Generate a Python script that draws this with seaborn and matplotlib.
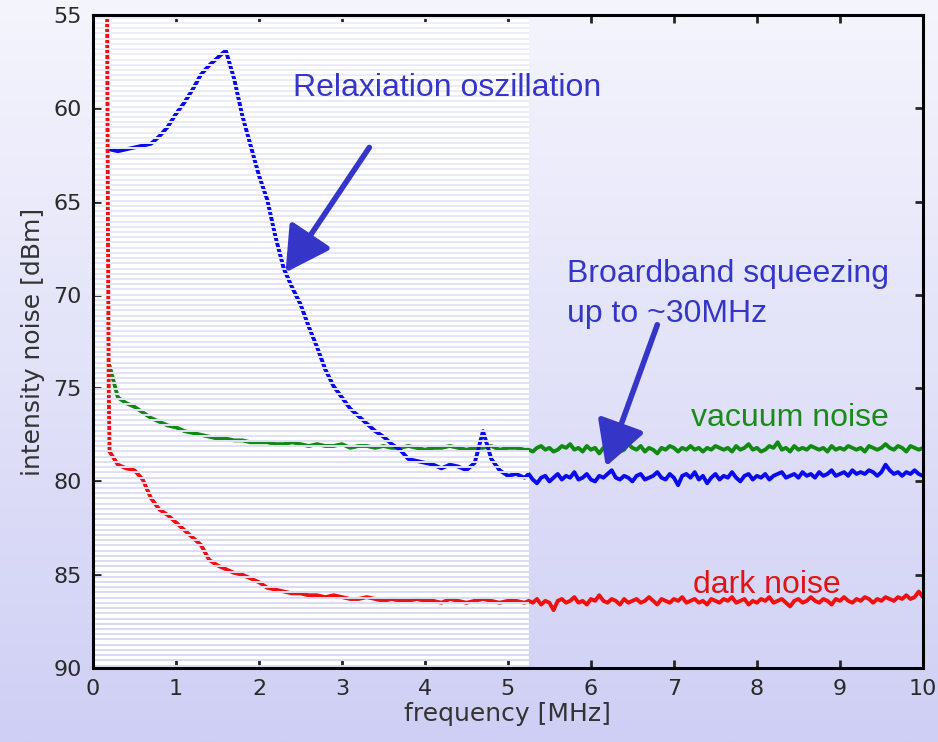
import numpy as np
import pandas as pd
import matplotlib
matplotlib.use("Agg")
import matplotlib.pyplot as plt
import seaborn as sns
from matplotlib.colors import LinearSegmentedColormap

# frequency grids (MHz)
freq_left = np.round(np.arange(0.2, 5.21, 0.1), 2)
freq_right = np.round(np.arange(5.25, 10.001, 0.05), 2)

# relaxation oscillation / squeezed light (blue)
blue_left = [62.2, 62.3, 62.2, 62.1, 62.0, 61.9, 61.5, 61.0, 60.3, 59.7,
             59.0, 58.2, 57.7, 57.3, 56.9, 58.4, 60.4, 62.0, 63.6, 64.9,
             66.9, 68.6, 69.6, 70.5, 71.7, 72.8, 74.0, 74.9, 75.5, 76.1,
             76.5, 76.9, 77.3, 77.6, 78.0, 78.3, 78.8, 78.9, 79.0, 79.1,
             79.3, 79.1, 79.2, 79.4, 79.0, 77.3, 78.8, 79.4, 79.7, 79.6,
             79.8]
blue_right = [79.6, 79.9, 80.1, 79.8, 79.7, 80.0, 79.8, 79.6, 79.9, 79.7,
              79.8, 79.5, 79.9, 79.8, 79.6, 79.9, 80.0, 79.7, 79.8, 79.6,
              79.4, 79.8, 79.9, 79.7, 79.8, 80.0, 79.7, 79.6, 79.9, 79.8,
              79.7, 79.5, 79.8, 79.9, 79.6, 79.8, 80.2, 79.7, 79.6, 79.8,
              79.5, 79.9, 79.7, 80.1, 79.8, 79.6, 79.9, 79.7, 79.8, 79.5,
              79.8, 80.0, 79.7, 79.6, 79.9, 79.7, 79.8, 79.6, 79.9, 79.7,
              79.6, 79.5, 79.8, 79.7, 79.6, 79.8, 79.5, 79.7, 79.6, 79.8,
              79.5, 79.7, 79.6, 79.4, 79.7, 79.6, 79.5, 79.7, 79.4, 79.6,
              79.5, 79.6, 79.4, 79.5, 79.7, 79.5, 79.1, 79.4, 79.6, 79.5,
              79.7, 79.5, 79.6, 79.4, 79.6, 79.7]

# vacuum noise (green)
green_left = [73.8, 75.5, 75.8, 76.0, 76.3, 76.6, 76.8, 77.0, 77.1, 77.3,
              77.4, 77.5, 77.6, 77.7, 77.7, 77.8, 77.8, 77.9, 77.9, 77.9,
              78.0, 78.0, 77.9, 78.0, 78.1, 78.0, 78.1, 78.1, 78.0, 78.2,
              78.1, 78.1, 78.2, 78.1, 78.2, 78.2, 78.1, 78.2, 78.3, 78.2,
              78.2, 78.1, 78.2, 78.3, 78.2, 78.2, 78.1, 78.3, 78.2, 78.2,
              78.3]
green_right = [78.3, 78.4, 78.2, 78.1, 78.3, 78.2, 78.4, 78.3, 78.1, 78.2,
               78.0, 78.3, 78.2, 78.4, 78.1, 78.3, 78.2, 78.5, 78.2, 78.3,
               78.1, 78.2, 78.4, 78.3, 78.0, 78.2, 78.3, 78.1, 78.4, 78.2,
               78.3, 78.5, 78.2, 78.3, 78.1, 78.2, 78.4, 78.2, 78.3, 78.1,
               78.3, 78.2, 78.4, 78.2, 78.3, 78.1, 78.2, 78.3, 78.2, 78.4,
               78.1, 78.3, 78.2, 78.0, 78.3, 78.2, 78.4, 78.3, 78.1, 78.2,
               77.9, 78.3, 78.2, 78.4, 78.1, 78.3, 78.2, 78.3, 78.1, 78.2,
               78.3, 78.2, 78.4, 78.1, 78.3, 78.2, 78.3, 78.1, 78.2, 78.3,
               78.2, 78.4, 78.1, 78.2, 78.3, 78.2, 78.0, 78.2, 78.3, 78.1,
               78.2, 78.4, 78.1, 78.2, 78.3, 78.2]

# dark noise (red), starts with a near vertical drop
red_start_freq = [0.17, 0.18, 0.19]
red_start = [54.0, 66.0, 75.0]
red_left = [78.4, 79.1, 79.3, 79.4, 79.9, 80.9, 81.5, 81.8, 82.2, 82.6,
            83.0, 83.4, 84.2, 84.5, 84.7, 84.9, 85.0, 85.2, 85.4, 85.7,
            85.8, 85.9, 86.0, 86.0, 86.1, 86.1, 86.2, 86.1, 86.2, 86.3,
            86.3, 86.2, 86.3, 86.4, 86.3, 86.4, 86.4, 86.3, 86.4, 86.4,
            86.5, 86.3, 86.4, 86.5, 86.4, 86.3, 86.4, 86.5, 86.4, 86.4,
            86.5]
red_right = [86.4, 86.5, 86.3, 86.6, 86.4, 86.5, 86.9, 86.4, 86.3, 86.5,
             86.4, 86.2, 86.5, 86.4, 86.6, 86.3, 86.4, 86.1, 86.4, 86.5,
             86.3, 86.4, 86.6, 86.3, 86.5, 86.4, 86.3, 86.5, 86.4, 86.2,
             86.4, 86.6, 86.3, 86.4, 86.5, 86.3, 86.4, 86.2, 86.5, 86.4,
             86.3, 86.5, 86.4, 86.6, 86.3, 86.4, 86.5, 86.3, 86.4, 86.2,
             86.5, 86.4, 86.3, 86.6, 86.4, 86.5, 86.3, 86.4, 86.2, 86.5,
             86.4, 86.3, 86.5, 86.7, 86.4, 86.3, 86.5, 86.4, 86.2, 86.4,
             86.5, 86.3, 86.4, 86.6, 86.3, 86.4, 86.2, 86.4, 86.5, 86.3,
             86.4, 86.2, 86.3, 86.5, 86.3, 86.4, 86.2, 86.3, 86.4, 86.2,
             86.3, 86.1, 86.3, 86.2, 85.9, 86.2]

df_blue = pd.DataFrame({"freq": np.concatenate([freq_left, freq_right]),
                        "noise": blue_left + blue_right})
df_green = pd.DataFrame({"freq": np.concatenate([freq_left, freq_right]),
                         "noise": green_left + green_right})
df_red = pd.DataFrame({"freq": np.concatenate([red_start_freq, freq_left, freq_right]),
                       "noise": red_start + red_left + red_right})

sns.set_style("ticks")
plt.rcParams["font.family"] = ["DejaVu Sans"]

fig = plt.figure(figsize=(9.38, 7.42), dpi=100)

# lavender gradient background
bg = fig.add_axes([0, 0, 1, 1], zorder=-10)
grad = np.linspace(0, 1, 256).reshape(-1, 1)
cmap_bg = LinearSegmentedColormap.from_list("bg", ["#f5f5fd", "#cfcff5"])
bg.imshow(grad, aspect="auto", cmap=cmap_bg, extent=[0, 1, 0, 1], origin="upper")
bg.axis("off")

ax = fig.add_axes([0.0991, 0.0997, 0.8848, 0.8801])
ax.set_facecolor("none")

# white scanned area on the left part of the plot
ax.axvspan(0, 5.25, color="white", zorder=0.5, lw=0)

sns.lineplot(data=df_green, x="freq", y="noise", color="#108a10", lw=2.8, ax=ax,
             errorbar=None, zorder=2)
sns.lineplot(data=df_blue, x="freq", y="noise", color="#0a0aee", lw=2.8, ax=ax,
             errorbar=None, zorder=2)
sns.lineplot(data=df_red, x="freq", y="noise", color="#f01010", lw=2.8, ax=ax,
             errorbar=None, zorder=2)

# horizontal scan stripes over the left part
stripe_y = np.arange(55.15, 90, 0.28)
stripe_cmap = LinearSegmentedColormap.from_list("st", ["#eeeefb", "#d8d8f4"])
stripe_cols = [stripe_cmap((y - 55) / 35) for y in stripe_y]
ax.hlines(stripe_y, 0.02, 5.25, colors=stripe_cols, lw=1.4, zorder=3)

ax.set_xlim(0, 10)
ax.set_ylim(90, 55)
ax.set_xticks(range(0, 11))
ax.set_yticks(range(55, 91, 5))

for s in ax.spines.values():
    s.set_visible(True)
    s.set_linewidth(2.2)
    s.set_color("black")
    s.set_zorder(5)
ax.tick_params(direction="in", length=6, width=2, top=True, right=True,
               labelsize=16, labelcolor="#2a2a2a", pad=8)

ax.set_xlabel("frequency [MHz]", fontsize=18, color="#333333", labelpad=2)
ax.set_ylabel("intensity noise [dBm]", fontsize=18, color="#333333", labelpad=6)

ann_font = ["Liberation Sans", "DejaVu Sans"]
blue_txt = "#3535c8"
ax.text(2.41, 58.9, "Relaxiation oszillation", fontsize=23, color=blue_txt,
        family=ann_font, va="center", ha="left", zorder=6)
ax.text(5.71, 68.9, "Broardband squeezing", fontsize=23, color=blue_txt,
        family=ann_font, va="center", ha="left", zorder=6)
ax.text(5.71, 71.0, "up to ~30MHz", fontsize=23, color=blue_txt,
        family=ann_font, va="center", ha="left", zorder=6)
ax.text(7.21, 76.6, "vacuum noise", fontsize=23, color="#1a8a1a",
        family=ann_font, va="center", ha="left", zorder=6)
ax.text(7.23, 85.55, "dark noise", fontsize=23, color="#dd1515",
        family=ann_font, va="center", ha="left", zorder=6)

arrow_style = dict(arrowstyle="-|>,head_length=0.9,head_width=0.5", lw=4,
                   color=blue_txt, mutation_scale=30, shrinkA=0, shrinkB=0)
ax.annotate("", xy=(2.32, 68.8), xytext=(3.33, 62.1), arrowprops=arrow_style, zorder=6)
ax.annotate("", xy=(6.18, 79.2), xytext=(6.80, 71.6), arrowprops=arrow_style, zorder=6)

fig.savefig("out.png", dpi=100)
